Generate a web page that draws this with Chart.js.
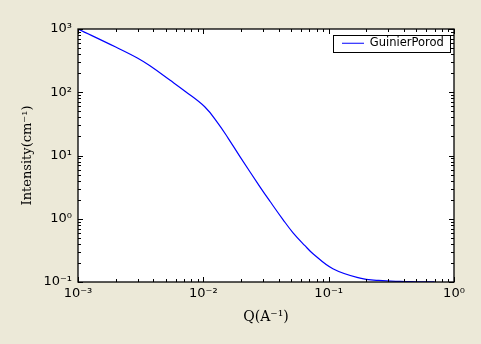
<!DOCTYPE html>
<html>
<head>
<meta charset="utf-8">
<script src="https://cdn.jsdelivr.net/npm/chart.js@4"></script>
<style>
  html, body { margin: 0; padding: 0; background: #ece9d8; }
  #wrap { width: 481px; height: 344px; }
</style>
</head>
<body>
<div id="wrap"><canvas id="chart"></canvas></div>
<script>
// Q values (A^-1) and model intensity (cm^-1)
const qValues = [0.001, 0.002, 0.003, 0.00375, 0.0054, 0.00714, 0.0103, 0.01315, 0.0158,
                 0.0196, 0.0283, 0.034, 0.0432, 0.052, 0.0647, 0.075, 0.108, 0.178, 0.25, 0.37, 0.5, 0.7];
const intensity = [1000, 518, 345, 262, 156, 104, 58.5, 32, 18.7,
                   9.6, 3.2, 1.89, 0.97, 0.6, 0.375, 0.28, 0.162, 0.115, 0.106, 0.102, 0.101, 0.1005];
const seriesName = 'GuinierPorod';

// decades shown on each axis
const xDecades = [0.001, 0.01, 0.1, 1];
const yDecades = [0.1, 1, 10, 100, 1000];

// major + minor (2..9) tick values
function logTicks(decades) {
    const out = [];
    decades.forEach((d, i) => {
        out.push(d);
        if (i < decades.length - 1) {
            for (let m = 2; m <= 9; m++) out.push(+(m * d).toPrecision(6));
        }
    });
    return out;
}
const xTickVals = logTicks(xDecades);
const yTickVals = logTicks(yDecades);

const isMajor = v => Math.abs(Math.log10(v) - Math.round(Math.log10(v))) < 1e-9;

const supMap = { '-': '\u207B', '0': '\u2070', '1': '\u00B9', '2': '\u00B2', '3': '\u00B3' };
function powLabel(v) {
    if (!isMajor(v)) return '';
    const e = String(Math.round(Math.log10(v)));
    return '10' + e.split('').map(c => supMap[c]).join('');
}

// white axes background, black frame, inward ticks on all four sides, legend in top right
const framePlugin = {
    id: 'frame',
    afterLayout(chart) {
        const lg = chart.legend;
        const a = chart.chartArea;
        if (!lg) return;
        const w = lg.right - lg.left, h = lg.bottom - lg.top;
        lg.left = a.right - 122;
        lg.top = a.top - 1.5;
        lg.right = lg.left + w;
        lg.bottom = lg.top + h;
    },
    beforeDraw(chart) {
        const { ctx, chartArea: a } = chart;
        ctx.save();
        ctx.fillStyle = '#ffffff';
        ctx.fillRect(a.left, a.top, a.right - a.left, a.bottom - a.top);
        ctx.restore();
    },
    afterDraw(chart) {
        const { ctx, chartArea: a, scales } = chart;
        ctx.save();
        ctx.strokeStyle = '#000';
        ctx.lineWidth = 1;
        ctx.beginPath();
        scales.x.ticks.forEach(t => {
            const px = Math.round(scales.x.getPixelForValue(t.value)) + 0.5;
            const len = isMajor(t.value) ? 5 : 3;
            ctx.moveTo(px, a.bottom); ctx.lineTo(px, a.bottom - len);
            ctx.moveTo(px, a.top); ctx.lineTo(px, a.top + len);
        });
        scales.y.ticks.forEach(t => {
            const py = Math.round(scales.y.getPixelForValue(t.value)) + 0.5;
            const len = isMajor(t.value) ? 5 : 3;
            ctx.moveTo(a.left, py); ctx.lineTo(a.left + len, py);
            ctx.moveTo(a.right, py); ctx.lineTo(a.right - len, py);
        });
        ctx.stroke();
        ctx.lineWidth = 1.3;
        ctx.strokeRect(a.left, a.top, a.right - a.left, a.bottom - a.top);

        // box round the legend
        const hb = chart.legend && chart.legend.legendHitBoxes[0];
        if (hb) {
            ctx.lineWidth = 1;
            const x0 = Math.round(hb.left - 9) + 0.5, y0 = Math.round(hb.top - 3) + 0.5;
            const x1 = Math.round(hb.left + hb.width + 6) + 0.5, y1 = Math.round(hb.top + hb.height + 3) + 0.5;
            ctx.strokeRect(x0, y0, x1 - x0, y1 - y0);
        }
        ctx.restore();
    }
};

Chart.defaults.font.family = 'DejaVu Sans';
Chart.defaults.color = '#000';

new Chart(document.getElementById('chart'), {
    type: 'line',
    data: {
        datasets: [{
            label: seriesName,
            data: qValues.map((q, i) => ({ x: q, y: intensity[i] })),
            borderColor: '#0000ff',
            backgroundColor: '#0000ff',
            borderWidth: 1.2,
            pointRadius: 0,
            pointStyle: 'line',
            tension: 0.4,
            fill: false
        }]
    },
    options: {
        responsive: true,
        maintainAspectRatio: false,
        animation: false,
        layout: { padding: { top: 29, right: 27, left: 0, bottom: 0 } },
        plugins: {
            legend: {
                position: 'chartArea',
                align: 'start',
                labels: {
                    usePointStyle: true,
                    pointStyleWidth: 22,
                    font: { size: 11.5 },
                    color: '#000',
                    padding: 10
                }
            },
            tooltip: { enabled: false }
        },
        scales: {
            x: {
                type: 'logarithmic',
                min: 0.001,
                max: 1,
                afterBuildTicks: s => { s.ticks = xTickVals.map(v => ({ value: v })); },
                afterFit: s => { s.height = 62; },
                grid: { display: false, drawTicks: false },
                border: { display: false },
                ticks: {
                    autoSkip: false,
                    maxRotation: 0,
                    padding: 4,
                    font: { size: 13 },
                    callback: v => powLabel(v)
                },
                title: {
                    display: true,
                    text: 'Q(A\u207B\u00B9)',
                    font: { family: 'DejaVu Serif', size: 14 },
                    padding: { top: 0, bottom: 18 }
                }
            },
            y: {
                type: 'logarithmic',
                min: 0.1,
                max: 1000,
                afterBuildTicks: s => { s.ticks = yTickVals.map(v => ({ value: v })); },
                afterFit: s => { s.width = 78; },
                grid: { display: false, drawTicks: false },
                border: { display: false },
                ticks: {
                    autoSkip: false,
                    padding: 6,
                    font: { size: 13 },
                    callback: v => powLabel(v)
                },
                title: {
                    display: true,
                    text: 'Intensity(cm\u207B\u00B9)',
                    font: { family: 'DejaVu Serif', size: 13 },
                    padding: { top: 20, bottom: 0 }
                }
            }
        }
    },
    plugins: [framePlugin]
});
</script>
</body>
</html>
